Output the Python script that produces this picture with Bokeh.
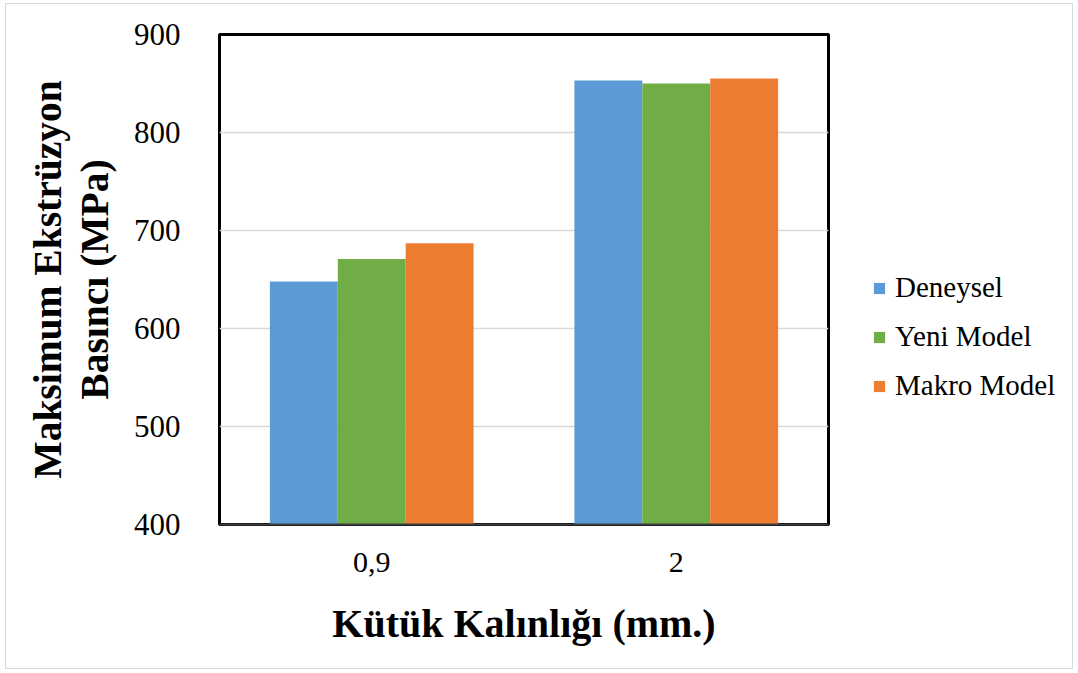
from bokeh.plotting import figure
from bokeh.layouts import row
from bokeh.models import (FactorRange, Range1d, Legend, LegendItem,
                          FixedTicker, ColumnDataSource)
from bokeh.transform import dodge
from bokeh.embed import file_html
from bokeh.resources import INLINE

# ---- data ----
categories = ["0,9", "2"]
series_names = ["Deneysel", "Yeni Model", "Makro Model"]
deneysel = [648, 853]
yeni_model = [671, 850]
makro_model = [687, 855]
y_ticks = [400, 500, 600, 700, 800, 900]

colors = ["#5B9BD5", "#70AD47", "#ED7D31"]
FONT = "Liberation Serif"

source = ColumnDataSource(dict(cat=categories, d=deneysel, y=yeni_model, m=makro_model))

p = figure(width=825, height=664, output_backend="svg", toolbar_location=None,
           x_range=FactorRange(*categories, range_padding=0),
           y_range=Range1d(400, 900),
           min_border_left=213, min_border_top=30, min_border_right=3,
           min_border_bottom=144)

bw = 0.223
for col, off, c in zip(["d", "y", "m"], [-bw, 0, bw], colors):
    p.vbar(x=dodge("cat", off, range=p.x_range), top=col, bottom=400, width=bw,
           source=source, fill_color=c, line_color=None)

# frame / grid
p.outline_line_color = "black"
p.outline_line_width = 3
p.xgrid.grid_line_color = None
p.ygrid.grid_line_color = "#d9d9d9"
p.ygrid.grid_line_width = 1.5
p.background_fill_color = "white"
p.border_fill_color = "white"

# y axis
p.yaxis.ticker = FixedTicker(ticks=y_ticks)
p.yaxis.major_tick_line_color = None
p.yaxis.minor_tick_line_color = None
p.yaxis.axis_line_color = None
p.yaxis.major_label_text_font = FONT
p.yaxis.major_label_text_font_size = "31px"
p.yaxis.major_label_text_color = "black"
p.yaxis.major_label_standoff = 33
p.yaxis.axis_label = "Maksimum Ekstrüzyon\nBasıncı (MPa)"
p.yaxis.axis_label_text_font = FONT
p.yaxis.axis_label_text_font_style = "bold"
p.yaxis.axis_label_text_font_size = "39.5px"
p.yaxis.axis_label_text_color = "black"
p.yaxis.axis_label_text_line_height = 1.06
p.yaxis.axis_label_standoff = 14

# x axis
p.xaxis.major_tick_line_color = None
p.xaxis.axis_line_color = "#404040"
p.xaxis.axis_line_width = 2
p.xaxis.major_label_text_font = FONT
p.xaxis.major_label_text_font_size = "30px"
p.xaxis.major_label_text_color = "black"
p.xaxis.major_label_standoff = 22
p.xaxis.axis_label = "Kütük Kalınlığı (mm.)"
p.xaxis.axis_label_text_font = FONT
p.xaxis.axis_label_text_font_style = "bold"
p.xaxis.axis_label_text_font_size = "40px"
p.xaxis.axis_label_text_color = "black"
p.xaxis.axis_label_standoff = 26

# legend panel (separate canvas to the right of the plot area)
lf = figure(width=241, height=664, output_backend="svg", toolbar_location=None,
            x_range=Range1d(0, 1), y_range=Range1d(0, 1),
            x_axis_location=None, y_axis_location=None,
            min_border_left=0, min_border_right=0, min_border_top=0, min_border_bottom=0)
lf.outline_line_color = None
lf.xgrid.grid_line_color = None
lf.ygrid.grid_line_color = None
lf.background_fill_color = "white"
lf.border_fill_color = "white"

# legend key glyphs: one bar each, placed outside the visible range of this panel
key_src = ColumnDataSource(dict(x=[10], top=[10]))
leg_renderers = [lf.vbar(x="x", top="top", width=0.1, source=key_src, fill_color=c, line_color=None)
                 for c in colors]

legend = Legend(items=[LegendItem(label=n, renderers=[r]) for n, r in zip(series_names, leg_renderers)],
                location=(41, 122), padding=0, margin=0, spacing=16,
                glyph_width=14, glyph_height=14, label_standoff=9,
                label_text_font=FONT, label_text_font_size="29px", label_text_color="black",
                border_line_color=None, background_fill_alpha=0)
lf.add_layout(legend)

layout = row(p, lf)
layout.styles = {"border": "1px solid #d9d9d9", "margin-left": "5px", "margin-top": "3px"}

open("out.html", "w").write(file_html(layout, INLINE))
